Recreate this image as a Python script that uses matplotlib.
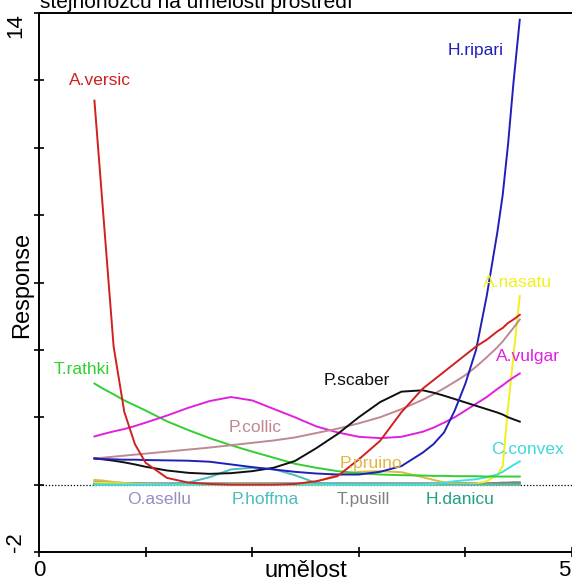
import matplotlib
matplotlib.use("Agg")
import matplotlib.pyplot as plt
from matplotlib.transforms import ScaledTranslation

plt.rcParams['font.family'] = ['Liberation Sans', 'DejaVu Sans']

# ---- data ----
x_grid = [0.52, 0.6, 0.7, 0.8, 0.9, 1.0, 1.2, 1.4, 1.6, 1.8, 2.0, 2.2, 2.4, 2.6, 2.8,
          3.0, 3.2, 3.4, 3.6, 3.7, 3.8, 3.9, 4.0, 4.1, 4.2, 4.3, 4.35, 4.4, 4.45, 4.51]

o_asellu = [0.10, 0.08, 0.06, 0.05, 0.04, 0.04, 0.04, 0.04, 0.04, 0.04, 0.04, 0.04, 0.04, 0.04, 0.04,
            0.04, 0.04, 0.04, 0.04, 0.04, 0.04, 0.04, 0.04, 0.04, 0.04, 0.04, 0.04, 0.04, 0.04, 0.04]
t_pusill = [0.05, 0.05, 0.04, 0.04, 0.04, 0.03, 0.03, 0.03, 0.03, 0.03, 0.03, 0.03, 0.03, 0.03, 0.03,
            0.03, 0.03, 0.03, 0.03, 0.03, 0.03, 0.03, 0.03, 0.03, 0.04, 0.05, 0.06, 0.06, 0.07, 0.07]
h_danicu = [0.02, 0.02, 0.02, 0.02, 0.02, 0.02, 0.02, 0.02, 0.02, 0.02, 0.02, 0.02, 0.02, 0.02, 0.02,
            0.02, 0.02, 0.02, 0.02, 0.02, 0.02, 0.02, 0.02, 0.02, 0.02, 0.02, 0.02, 0.02, 0.02, 0.02]
p_pruino = [0.14, 0.12, 0.08, 0.05, 0.03, 0.02, 0.01, 0.01, 0.01, 0.01, 0.01, 0.01, 0.02, 0.08, 0.30,
            0.38, 0.40, 0.37, 0.22, 0.14, 0.07, 0.03, 0.01, 0.0, 0.0, 0.0, 0.0, 0.0, 0.0, 0.0]
a_nasatu = [0.06, 0.05, 0.04, 0.03, 0.02, 0.01, 0.01, 0.0, 0.0, 0.0, 0.0, 0.0, 0.0, 0.0, 0.0,
            0.0, 0.0, 0.0, 0.0, 0.0, 0.0, 0.0, 0.01, 0.03, 0.10, 0.30, 0.55, 2.30, 3.80, 5.60]
p_hoffma = [0.0, 0.0, 0.0, 0.0, 0.0, 0.0, 0.01, 0.06, 0.22, 0.45, 0.50, 0.46, 0.28, 0.05, 0.01,
            0.0, 0.0, 0.0, 0.0, 0.0, 0.0, 0.0, 0.0, 0.0, 0.0, 0.0, 0.0, 0.0, 0.0, 0.0]
c_convex = [0.0, 0.0, 0.0, 0.0, 0.0, 0.0, 0.0, 0.0, 0.0, 0.0, 0.0, 0.0, 0.0, 0.0, 0.0,
            0.0, 0.0, 0.0, 0.0, 0.02, 0.06, 0.10, 0.13, 0.16, 0.22, 0.30, 0.38, 0.48, 0.58, 0.69]
t_rathki = [3.00, 2.85, 2.68, 2.50, 2.35, 2.20, 1.88, 1.62, 1.38, 1.17, 0.98, 0.80, 0.62, 0.50, 0.40,
            0.34, 0.30, 0.28, 0.27, 0.26, 0.26, 0.25, 0.25, 0.25, 0.24, 0.24, 0.24, 0.24, 0.24, 0.24]
a_vulgar = [1.43, 1.50, 1.58, 1.65, 1.74, 1.84, 2.05, 2.28, 2.48, 2.60, 2.50, 2.25, 2.00, 1.73, 1.55,
            1.42, 1.38, 1.42, 1.57, 1.69, 1.84, 2.00, 2.20, 2.40, 2.60, 2.84, 2.95, 3.07, 3.18, 3.30]
p_collic = [0.78, 0.80, 0.83, 0.86, 0.89, 0.92, 0.98, 1.04, 1.10, 1.17, 1.24, 1.31, 1.40, 1.53, 1.66,
            1.82, 2.00, 2.24, 2.52, 2.68, 2.86, 3.05, 3.25, 3.50, 3.78, 4.08, 4.25, 4.45, 4.65, 4.90]
p_scaber = [0.78, 0.75, 0.71, 0.66, 0.60, 0.53, 0.42, 0.35, 0.32, 0.34, 0.40, 0.50, 0.70, 1.08, 1.50,
            2.00, 2.45, 2.76, 2.80, 2.73, 2.64, 2.54, 2.44, 2.34, 2.24, 2.14, 2.08, 2.00, 1.94, 1.87]
h_ripari = [0.77, 0.76, 0.75, 0.74, 0.74, 0.73, 0.72, 0.71, 0.68, 0.60, 0.52, 0.45, 0.38, 0.33, 0.30,
            0.30, 0.38, 0.55, 0.95, 1.20, 1.55, 2.20, 3.00, 4.00, 5.60, 7.50, 8.60, 10.10, 11.90, 13.80]
a_versic = [11.40, 8.15, 4.10, 2.16, 1.20, 0.65, 0.20, 0.06, 0.02, 0.0, 0.0, 0.0, 0.02, 0.10, 0.25,
            0.75, 1.30, 2.15, 2.85, 3.10, 3.35, 3.60, 3.85, 4.10, 4.30, 4.55, 4.65, 4.80, 4.90, 5.04]

species = ['O.asellu', 'T.pusill', 'H.danicu', 'P.pruino', 'A.nasatu', 'P.hoffma', 'C.convex',
           'T.rathki', 'A.vulgar', 'P.collic', 'P.scaber', 'H.ripari', 'A.versic']
series = [o_asellu, t_pusill, h_danicu, p_pruino, a_nasatu, p_hoffma, c_convex,
          t_rathki, a_vulgar, p_collic, p_scaber, h_ripari, a_versic]
colors = ['#9490c4', '#808080', '#20a080', '#e0b840', '#f0f020', '#4cbcbc', '#40e0e0',
          '#30d030', '#e020e0', '#c08890', '#101010', '#2020b8', '#d02020']
# label positions (data coords)
label_x = [1.13, 3.04, 3.95, 3.11, 4.49, 2.12, 4.58, 0.40, 4.59, 2.03, 2.98, 4.10, 0.57]
label_y = [-0.45, -0.45, -0.45, 0.62, 6.0, -0.45, 1.05, 3.43, 3.8, 1.7, 3.08, 12.9, 12.0]
label_colors = ['#9490c4', '#808080', '#20a080', '#e0b840', '#f0f020', '#4cbcbc', '#40d8d8',
                '#30d030', '#e020e0', '#c08890', '#101010', '#2020b8', '#d02020']

x_ticks = [0, 1, 2, 3, 4, 5]
x_ticklabels = ['0', '', '', '', '', '5']
y_ticks = [-2, 0, 2, 4, 6, 8, 10, 12, 14]
y_ticklabels = ['-2', '', '', '', '', '', '', '', '14']

W, H = 572, 583
fig = plt.figure(figsize=(W / 100, H / 100), dpi=100)
ax = fig.add_axes([39 / W, (H - 552) / H, 533 / W, (552 - 13) / H])
ax.set_xlim(0, 5)
ax.set_ylim(-2, 14)

ax.axhline(0, color='black', lw=0.9, ls=(0, (1, 1.5)), zorder=1)

for s, vals, c in zip(species, series, colors):
    ax.plot(x_grid, vals, color=c, lw=1.4, zorder=2, solid_joinstyle='round')

for s, lx, ly, c in zip(species, label_x, label_y, label_colors):
    ax.text(lx, ly, s, color=c, fontsize=12.5, ha='center', va='center', zorder=3)

for sp in ['top', 'left', 'bottom']:
    ax.spines[sp].set_linewidth(1.4)
ax.spines['right'].set_visible(False)

ax.set_xticks(x_ticks)
ax.set_xticklabels(x_ticklabels, fontsize=16)
ax.set_yticks(y_ticks)
ax.set_yticklabels(y_ticklabels, fontsize=16, rotation=90)
ax.tick_params(direction='inout', length=7, width=1.2)
ax.tick_params(axis='y', pad=1)
ax.tick_params(axis='x', pad=2)

xl = ax.get_xticklabels()
xl[-1].set_ha('right')
xl[-1].set_transform(xl[-1].get_transform() + ScaledTranslation(-2 / 100, 0, fig.dpi_scale_trans))
yl = ax.get_yticklabels()
yl[0].set_va('bottom')
yl[-1].set_va('top')
for t in yl:
    t.set_ha('center')
    t.set_x(-0.032)

ax.set_xlabel('umělost', fontsize=17)
ax.xaxis.set_label_coords(0.5, -0.014)

fig.text(22 / W, 1 - 285 / H, 'Response', rotation=90, fontsize=17, ha='center', va='center')

fig.text(40 / W, 1 - 8 / H, 'stejnonožců na umělosti prostředí', fontsize=15, ha='left', va='baseline')

fig.savefig('out.png', dpi=100)
